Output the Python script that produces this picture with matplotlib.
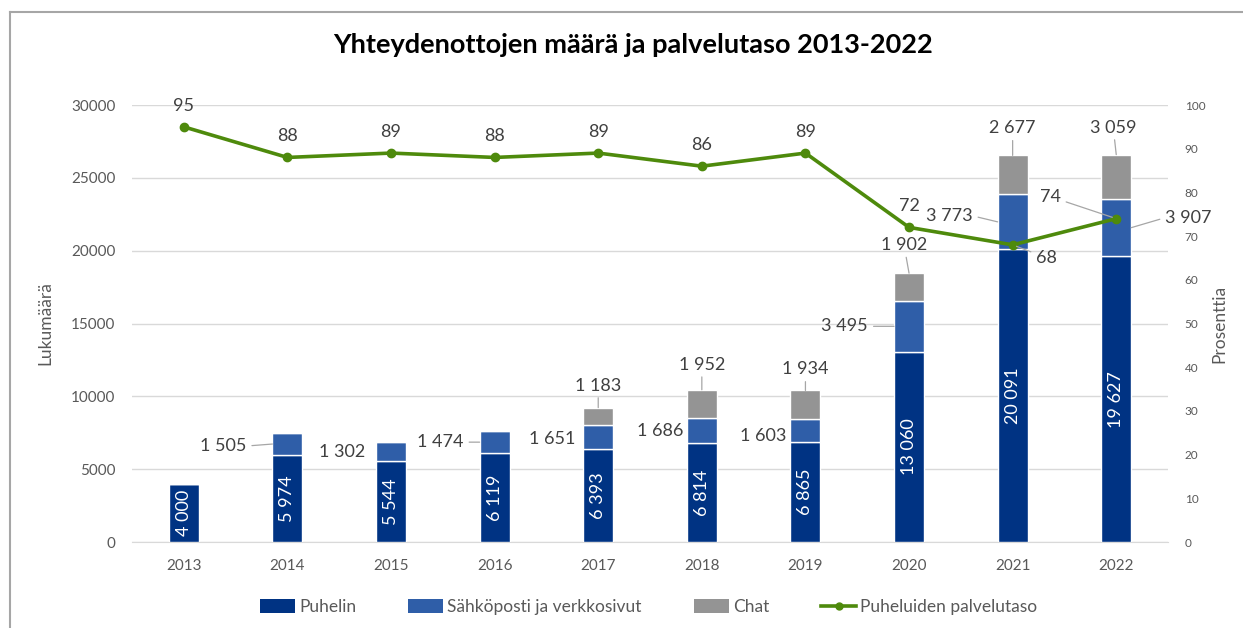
import matplotlib
matplotlib.use("Agg")
import matplotlib.pyplot as plt
import numpy as np
from matplotlib.lines import Line2D
from matplotlib.patches import Patch

plt.rcParams["font.family"] = ["Lato", "DejaVu Sans"]

years = ["2013", "2014", "2015", "2016", "2017", "2018", "2019", "2020", "2021", "2022"]
puhelin = [4000, 5974, 5544, 6119, 6393, 6814, 6865, 13060, 20091, 19627]
sahkoposti = [0, 1505, 1302, 1474, 1651, 1686, 1603, 3495, 3773, 3907]
chat = [0, 0, 0, 0, 1183, 1952, 1934, 1902, 2677, 3059]
palvelutaso = [95, 88, 89, 88, 89, 86, 89, 72, 68, 74]

C_PUH = "#003383"
C_SAH = "#2F5EA8"
C_CHAT = "#949494"
C_LINE = "#4E8A0C"
C_TXT = "#404040"
C_GRID = "#D9D9D9"

PX = 0.72  # pixels -> points at dpi 100


def fmt(v):
    return f"{v:,}".replace(",", " ")


# label offsets in pixels (dx, dy), dy positive = up
email_off = [None, (-26, -2), (-11, 0), (-16, 0), (-8, -2), (-3, -1), (-4, -6), (-26, 0), (-25, 6), (34, 10)]
chat_off = [None, None, None, None, (0, 22), (0, 25), (0, 21), (-5, 28), (0, 27), (-3, 27)]
line_off = [(0, 21), (0, 21), (0, 21), (0, 21), (0, 21), (0, 21), (0, 21), (0, 21), (34, -13), (-66, 22)]

fig = plt.figure(figsize=(12.43, 6.28), dpi=100)
ax = fig.add_axes([0.1062, 0.1369, 0.8335, 0.6959])
ax2 = ax.twinx()

x = np.arange(len(years))
w = 0.29
puh = np.array(puhelin)
sah = np.array(sahkoposti)
ch = np.array(chat)

ax.bar(x, puh, w, color=C_PUH, edgecolor="white", linewidth=1, zorder=3)
ax.bar(x, sah, w, bottom=puh, color=C_SAH, edgecolor="white", linewidth=1, zorder=3)
ax.bar(x, ch, w, bottom=puh + sah, color=C_CHAT, edgecolor="white", linewidth=1, zorder=3)

ax.set_xlim(-0.5, len(years) - 0.5)
ax.set_ylim(0, 30000)
ax.set_yticks(range(0, 30001, 5000))
ax.set_xticks(x)
ax.set_xticklabels(years)
ax.grid(axis="y", color=C_GRID, lw=1, zorder=0)
ax.set_axisbelow(True)
for s in ["top", "right", "left"]:
    ax.spines[s].set_visible(False)
ax.spines["bottom"].set_color(C_GRID)
ax.tick_params(length=0, labelsize=11, labelcolor="#595959")
ax.tick_params(axis="x", pad=12)
ax.tick_params(axis="y", pad=12)
ax.set_ylabel("Lukumäärä", fontsize=12.5, color="#595959")
ax.yaxis.set_label_coords(-0.076, 0.5)

ax2.set_ylim(0, 100)
ax2.set_yticks(range(0, 101, 10))
for s in ["top", "right", "left", "bottom"]:
    ax2.spines[s].set_visible(False)
ax2.tick_params(length=0, labelsize=8.5, labelcolor="#595959", pad=12)
ax2.set_ylabel("Prosenttia", fontsize=12.5, color="#595959", labelpad=4)

ax2.plot(x, palvelutaso, color=C_LINE, lw=2.6, marker="o", ms=6, zorder=5)

# Puhelin labels inside bars
for i, v in enumerate(puhelin):
    ax.text(i, v / 2, fmt(v), rotation=90, ha="center", va="center", color="white", fontsize=13, zorder=4)

leader = dict(arrowstyle="-", color="#A6A6A6", lw=0.9, shrinkA=2, shrinkB=0)

# Sähköposti labels beside bars
for i, v in enumerate(sahkoposti):
    if v == 0:
        continue
    dx, dy = email_off[i]
    side = 1 if dx > 0 else -1
    xy = (i + side * w / 2, puhelin[i] + v / 2)
    ha = "left" if dx > 0 else "right"
    ap = dict(leader, relpos=(0, 0.5) if dx > 0 else (1, 0.5)) if abs(dx) >= 15 else None
    ax.annotate(fmt(v), xy=xy, xytext=(dx * PX, dy * PX), textcoords="offset points",
                ha=ha, va="center", fontsize=13, color=C_TXT, arrowprops=ap, zorder=6)

# Chat labels above bars
for i, v in enumerate(chat):
    if v == 0:
        continue
    dx, dy = chat_off[i]
    ax.annotate(fmt(v), xy=(i, puhelin[i] + sahkoposti[i] + v), xytext=(dx * PX, dy * PX),
                textcoords="offset points", ha="center", va="center", fontsize=13, color=C_TXT,
                arrowprops=dict(leader, shrinkA=1), zorder=6)

# service level labels
for i, v in enumerate(palvelutaso):
    dx, dy = line_off[i]
    ap = dict(leader, shrinkB=3) if dx != 0 else None
    ax2.annotate(str(v), xy=(i, v), xytext=(dx * PX, dy * PX), textcoords="offset points",
                 ha="center", va="center", fontsize=13, color=C_TXT, arrowprops=ap, zorder=6)

fig.text(0.509, 1 - 45 / 628, "Yhteydenottojen määrä ja palvelutaso 2013-2022",
         ha="center", va="center", fontsize=19.5, fontweight="bold", color="black")

handles = [
    Patch(facecolor=C_PUH, label="Puhelin"),
    Patch(facecolor=C_SAH, label="Sähköposti ja verkkosivut"),
    Patch(facecolor=C_CHAT, label="Chat"),
    Line2D([0], [0], color=C_LINE, lw=2.6, marker="o", ms=5, label="Puheluiden palvelutaso"),
]
fig.legend(handles=handles, loc="center", bbox_to_anchor=(0.522, 1 - 607 / 628), ncol=4,
           frameon=False, fontsize=12.5, handlelength=2.0, handleheight=0.8, handletextpad=0.25,
           columnspacing=3.0, labelcolor="#595959")

# outer frame (top and left edges visible)
fig.add_artist(Line2D([10 / 1243, 10 / 1243], [0, 1 - 12 / 628], transform=fig.transFigure,
                      color="#A6A6A6", lw=1.5))
fig.add_artist(Line2D([10 / 1243, 1], [1 - 12 / 628, 1 - 12 / 628], transform=fig.transFigure,
                      color="#A6A6A6", lw=1.5))

fig.savefig("out.png", dpi=100)
